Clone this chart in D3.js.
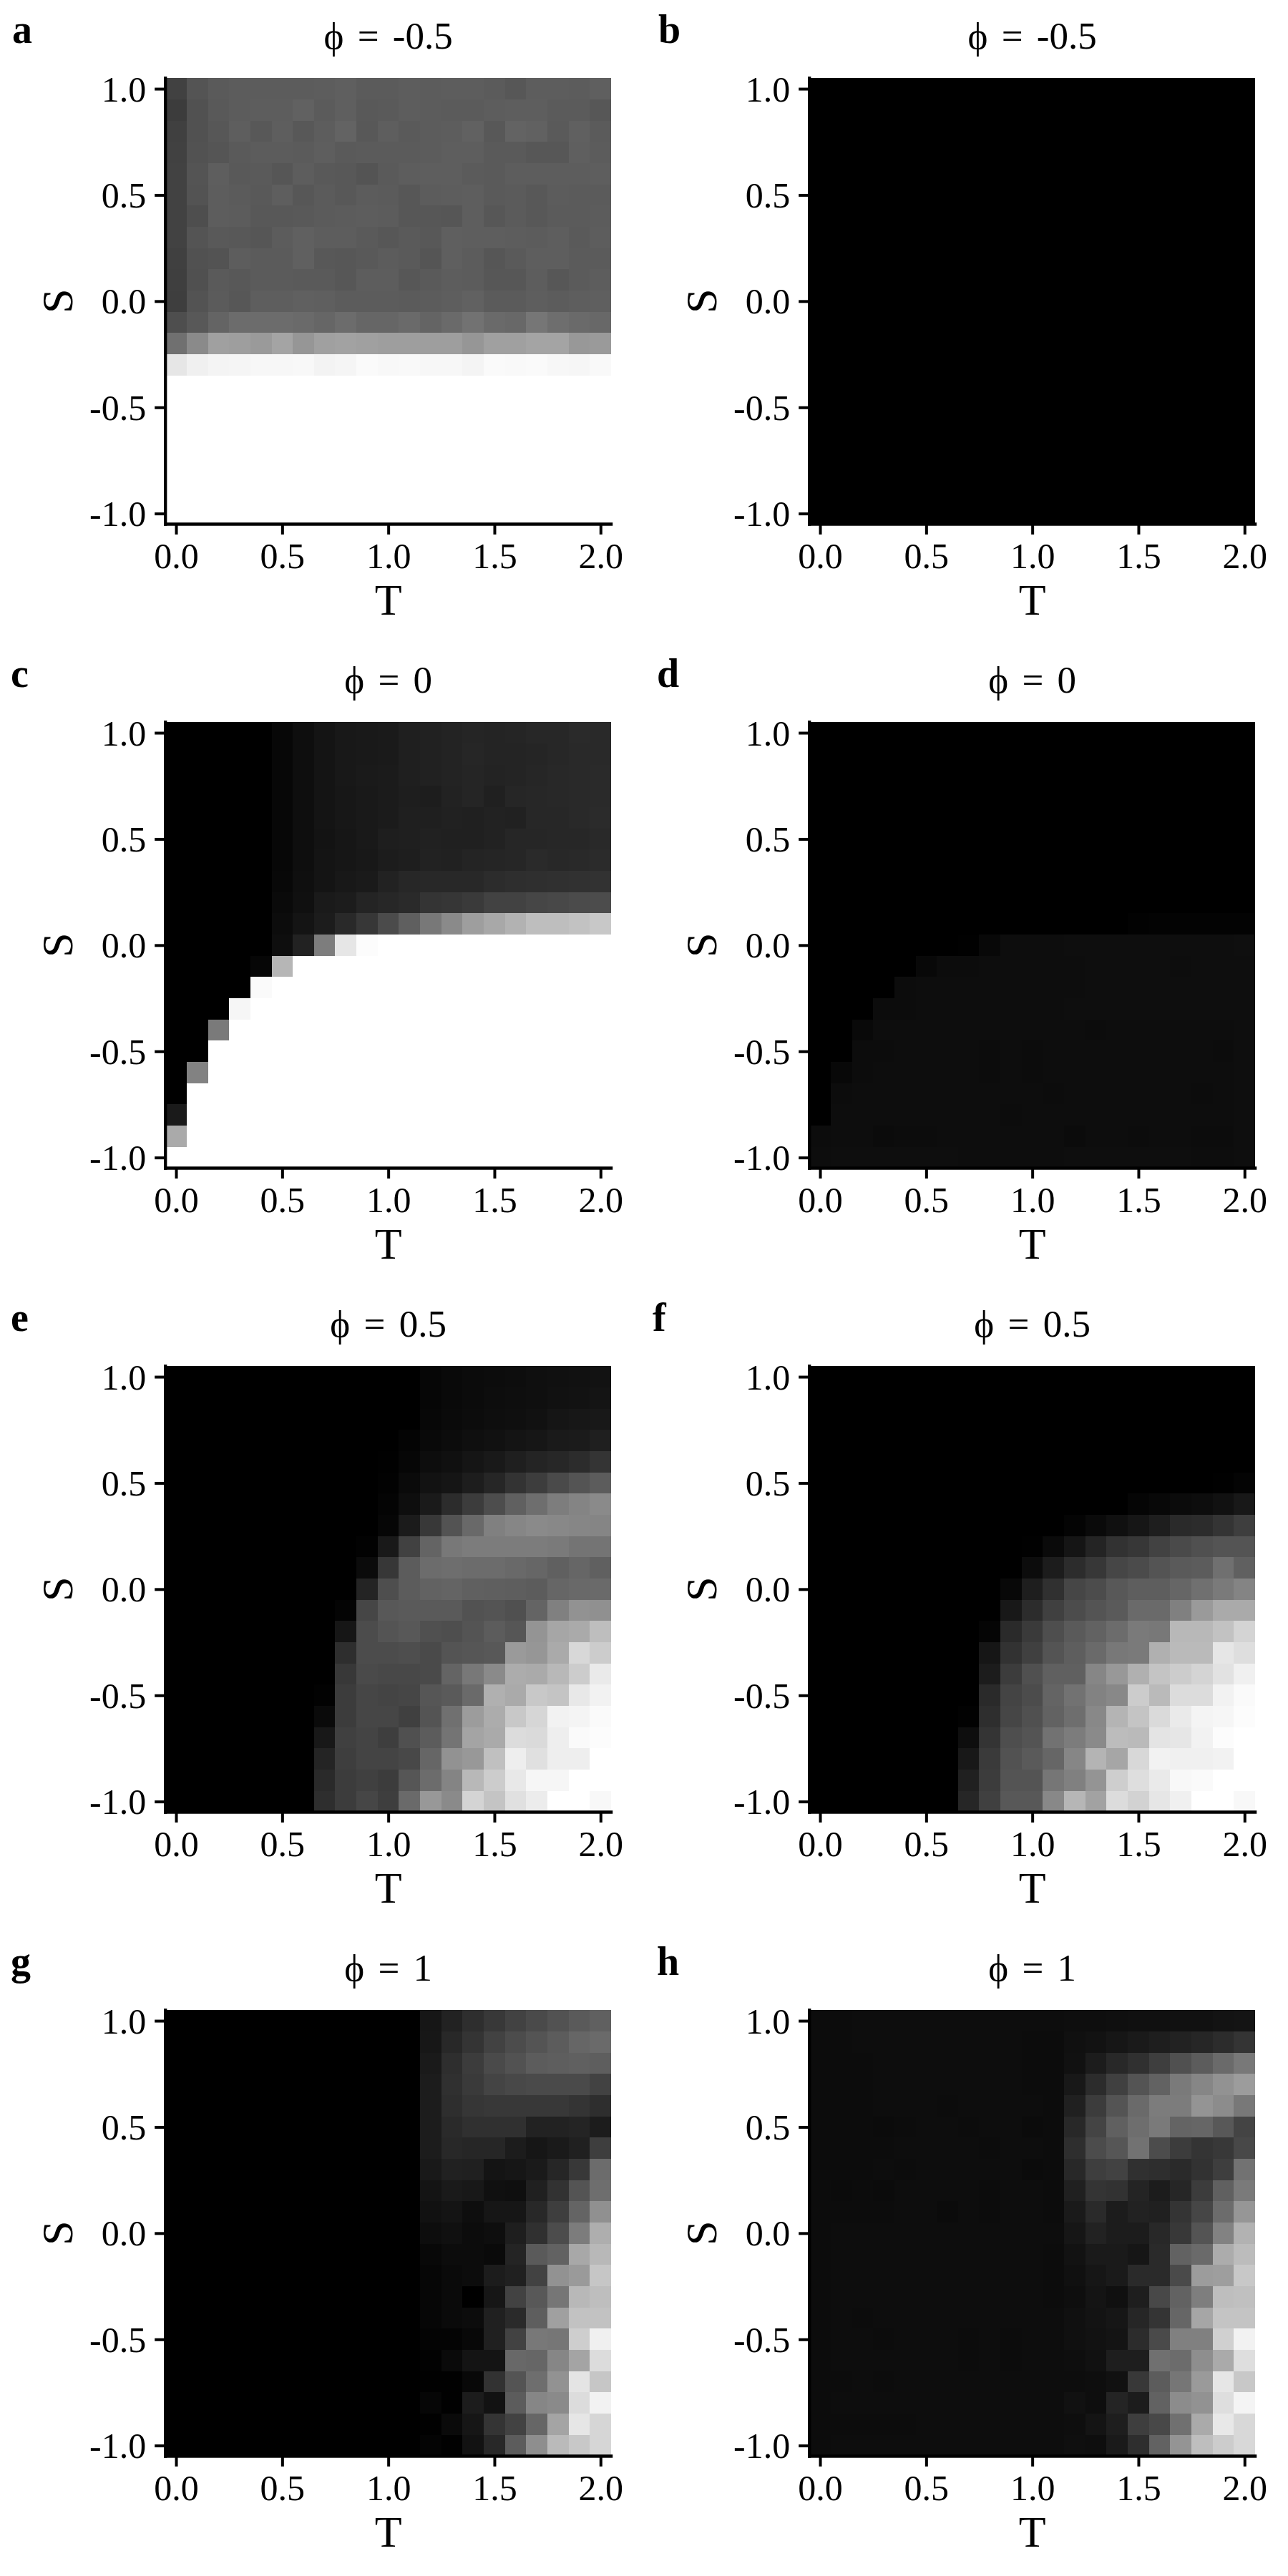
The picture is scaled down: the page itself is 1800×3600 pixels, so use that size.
<!DOCTYPE html>
<html><head><meta charset="utf-8">
<script src="https://cdnjs.cloudflare.com/ajax/libs/d3/7.8.5/d3.min.js"></script>
<style>html,body{margin:0;padding:0;background:#fff}svg{display:block}text{font-family:"Liberation Serif",serif;fill:#000}</style>
</head><body><svg id="c" width="1800" height="3600"></svg>
<script>
const tValues=[0,0.1,0.2,0.3,0.4,0.5,0.6,0.7,0.8,0.9,1,1.1,1.2,1.3,1.4,1.5,1.6,1.7,1.8,1.9,2];
const sValues=[1,0.9,0.8,0.7,0.6,0.5,0.4,0.3,0.2,0.1,0,-0.1,-0.2,-0.3,-0.4,-0.5,-0.6,-0.7,-0.8,-0.9,-1];
const tTicks=[0,0.5,1,1.5,2];
const sTicks=[-1,-0.5,0,0.5,1];
const panelLetters=["a","b","c","d","e","f","g","h"];
const panelTitles=["ϕ = -0.5","ϕ = -0.5","ϕ = 0","ϕ = 0","ϕ = 0.5","ϕ = 0.5","ϕ = 1","ϕ = 1"];

const panelA=[
[65,84,90,92,92,92,92,93,95,91,91,93,92,93,93,91,87,93,93,92,95],
[60,81,89,92,93,93,97,91,95,89,90,93,92,91,91,93,94,94,91,91,87],
[64,81,87,94,88,94,88,93,99,88,94,90,92,93,97,88,99,97,90,96,91],
[65,82,85,90,92,92,91,94,90,91,91,91,92,94,94,90,90,87,87,95,92],
[66,84,94,89,90,86,93,89,88,84,90,93,94,94,91,90,93,93,93,93,94],
[66,83,93,91,89,94,87,91,88,92,91,87,92,93,94,90,91,88,92,91,91],
[66,78,93,92,88,88,89,91,92,93,92,87,87,86,94,87,91,88,91,91,92],
[66,84,89,88,86,92,96,93,93,90,87,90,88,95,94,94,93,92,94,90,93],
[64,81,83,93,91,91,96,88,87,89,92,90,85,95,92,86,90,94,94,91,91],
[63,80,90,88,91,91,90,90,87,93,93,87,90,93,92,87,87,93,87,91,93],
[62,83,91,87,94,94,96,95,92,92,92,91,92,94,97,91,91,94,92,94,95],
[78,88,100,108,108,108,106,102,108,102,102,106,100,106,114,106,104,118,110,106,104],
[112,138,160,158,154,164,150,160,162,160,158,158,158,158,150,160,160,164,164,152,154],
[230,240,244,245,247,247,248,243,245,250,248,249,247,247,244,250,249,250,247,246,249],
[255,255,255,255,255,255,255,255,255,255,255,255,255,255,255,255,255,255,255,255,255],
[255,255,255,255,255,255,255,255,255,255,255,255,255,255,255,255,255,255,255,255,255],
[255,255,255,255,255,255,255,255,255,255,255,255,255,255,255,255,255,255,255,255,255],
[255,255,255,255,255,255,255,255,255,255,255,255,255,255,255,255,255,255,255,255,255],
[255,255,255,255,255,255,255,255,255,255,255,255,255,255,255,255,255,255,255,255,255],
[255,255,255,255,255,255,255,255,255,255,255,255,255,255,255,255,255,255,255,255,255],
[255,255,255,255,255,255,255,255,255,255,255,255,255,255,255,255,255,255,255,255,255]];

const panelB=[
[0,0,0,0,0,0,0,0,0,0,0,0,0,0,0,0,0,0,0,0,0],
[0,0,0,0,0,0,0,0,0,0,0,0,0,0,0,0,0,0,0,0,0],
[0,0,0,0,0,0,0,0,0,0,0,0,0,0,0,0,0,0,0,0,0],
[0,0,0,0,0,0,0,0,0,0,0,0,0,0,0,0,0,0,0,0,0],
[0,0,0,0,0,0,0,0,0,0,0,0,0,0,0,0,0,0,0,0,0],
[0,0,0,0,0,0,0,0,0,0,0,0,0,0,0,0,0,0,0,0,0],
[0,0,0,0,0,0,0,0,0,0,0,0,0,0,0,0,0,0,0,0,0],
[0,0,0,0,0,0,0,0,0,0,0,0,0,0,0,0,0,0,0,0,0],
[0,0,0,0,0,0,0,0,0,0,0,0,0,0,0,0,0,0,0,0,0],
[0,0,0,0,0,0,0,0,0,0,0,0,0,0,0,0,0,0,0,0,0],
[0,0,0,0,0,0,0,0,0,0,0,0,0,0,0,0,0,0,0,0,0],
[0,0,0,0,0,0,0,0,0,0,0,0,0,0,0,0,0,0,0,0,0],
[0,0,0,0,0,0,0,0,0,0,0,0,0,0,0,0,0,0,0,0,0],
[0,0,0,0,0,0,0,0,0,0,0,0,0,0,0,0,0,0,0,0,0],
[0,0,0,0,0,0,0,0,0,0,0,0,0,0,0,0,0,0,0,0,0],
[0,0,0,0,0,0,0,0,0,0,0,0,0,0,0,0,0,0,0,0,0],
[0,0,0,0,0,0,0,0,0,0,0,0,0,0,0,0,0,0,0,0,0],
[0,0,0,0,0,0,0,0,0,0,0,0,0,0,0,0,0,0,0,0,0],
[0,0,0,0,0,0,0,0,0,0,0,0,0,0,0,0,0,0,0,0,0],
[0,0,0,0,0,0,0,0,0,0,0,0,0,0,0,0,0,0,0,0,0],
[0,0,0,0,0,0,0,0,0,0,0,0,0,0,0,0,0,0,0,0,0]];

const panelC=[
[0,0,0,0,0,7,14,20,24,25,26,31,33,35,37,36,37,39,39,42,41],
[0,0,0,0,0,7,14,20,24,25,26,31,33,35,38,36,36,37,39,41,41],
[0,0,0,0,0,7,14,20,24,26,27,31,33,35,37,35,36,38,40,41,42],
[0,0,0,0,0,7,14,20,23,25,27,30,29,34,37,32,38,39,40,41,42],
[0,0,0,0,0,7,14,20,23,25,27,31,31,33,32,34,33,39,39,41,43],
[0,0,0,0,0,7,14,19,22,25,30,31,33,32,32,34,38,38,39,39,41],
[0,0,0,0,0,7,14,20,22,24,28,30,34,33,36,37,38,42,40,41,43],
[0,0,0,0,0,8,15,20,24,26,34,39,40,40,40,44,46,47,48,49,50],
[0,0,0,0,0,10,16,26,28,36,39,42,52,54,58,66,66,70,72,75,76],
[0,0,0,0,0,12,20,28,41,55,75,95,120,138,158,168,178,190,190,194,200],
[0,0,0,0,0,14,34,125,230,252,255,255,255,255,255,255,255,255,255,255,255],
[0,0,0,0,6,182,255,255,255,255,255,255,255,255,255,255,255,255,255,255,255],
[0,0,0,0,250,255,255,255,255,255,255,255,255,255,255,255,255,255,255,255,255],
[0,0,0,246,255,255,255,255,255,255,255,255,255,255,255,255,255,255,255,255,255],
[0,0,122,255,255,255,255,255,255,255,255,255,255,255,255,255,255,255,255,255,255],
[0,0,255,255,255,255,255,255,255,255,255,255,255,255,255,255,255,255,255,255,255],
[0,130,255,255,255,255,255,255,255,255,255,255,255,255,255,255,255,255,255,255,255],
[0,255,255,255,255,255,255,255,255,255,255,255,255,255,255,255,255,255,255,255,255],
[26,255,255,255,255,255,255,255,255,255,255,255,255,255,255,255,255,255,255,255,255],
[170,255,255,255,255,255,255,255,255,255,255,255,255,255,255,255,255,255,255,255,255],
[255,255,255,255,255,255,255,255,255,255,255,255,255,255,255,255,255,255,255,255,255]];

const panelD=[
[0,0,0,0,0,0,0,0,0,0,0,0,0,0,0,0,0,0,0,0,0],
[0,0,0,0,0,0,0,0,0,0,0,0,0,0,0,0,0,0,0,0,0],
[0,0,0,0,0,0,0,0,0,0,0,0,0,0,0,0,0,0,0,0,0],
[0,0,0,0,0,0,0,0,0,0,0,0,0,0,0,0,0,0,0,0,0],
[0,0,0,0,0,0,0,0,0,0,0,0,0,0,0,0,0,0,0,0,0],
[0,0,0,0,0,0,0,0,0,0,0,0,0,0,0,0,0,0,0,0,0],
[0,0,0,0,0,0,0,0,0,0,0,0,0,0,0,0,0,0,0,0,0],
[0,0,0,0,0,0,0,0,0,0,0,0,0,0,0,0,0,0,0,0,0],
[0,0,0,0,0,0,0,0,0,0,0,0,0,0,0,0,0,0,0,0,0],
[0,0,0,0,0,0,0,0,0,0,0,0,0,0,0,2,3,3,3,3,3],
[0,0,0,0,0,0,0,1,8,13,13,13,14,14,14,14,14,14,14,14,15],
[0,0,0,0,0,8,12,12,13,13,13,13,13,14,14,14,14,13,14,14,14],
[0,0,0,0,12,13,13,13,13,13,13,13,13,14,14,14,14,14,14,14,14],
[0,0,0,12,12,13,13,13,13,13,13,13,14,14,14,14,14,14,14,14,14],
[0,0,9,13,13,13,13,13,13,13,13,13,13,12,13,13,13,13,13,13,14],
[0,0,12,12,13,13,13,13,12,13,12,13,13,13,13,13,13,13,13,12,14],
[0,8,12,13,13,13,13,13,12,13,12,13,13,13,13,13,13,13,13,13,14],
[0,12,13,13,13,13,13,13,13,13,13,12,13,13,13,13,13,13,12,13,14],
[0,13,13,13,13,13,13,13,13,12,13,13,13,13,13,13,13,13,13,13,14],
[12,13,13,11,12,12,13,13,13,13,13,13,11,13,13,12,13,13,12,12,14],
[13,14,14,14,14,14,14,13,13,13,13,13,14,14,14,14,14,14,13,13,14]];

const panelE=[
[0,0,0,0,0,0,0,0,0,0,0,0,6,9,11,12,13,15,16,17,18],
[0,0,0,0,0,0,0,0,0,0,0,0,6,9,11,13,14,15,17,18,20],
[0,0,0,0,0,0,0,0,0,0,0,0,7,10,12,14,15,17,21,23,24],
[0,0,0,0,0,0,0,0,0,0,0,4,9,12,15,17,20,22,26,27,31],
[0,0,0,0,0,0,0,0,0,0,1,6,13,16,21,25,31,36,39,44,52],
[0,0,0,0,0,0,0,0,0,0,2,10,18,21,29,38,51,61,74,84,92],
[0,0,0,0,0,0,0,0,0,0,4,14,26,44,60,77,96,110,125,132,138],
[0,0,0,0,0,0,0,0,0,0,6,27,56,83,105,128,134,138,136,134,133],
[0,0,0,0,0,0,0,0,0,2,25,65,100,120,124,124,124,124,122,116,116],
[0,0,0,0,0,0,0,0,0,11,55,92,108,110,108,108,105,102,96,102,96],
[0,0,0,0,0,0,0,0,0,36,78,92,98,100,96,95,94,92,102,105,106],
[0,0,0,0,0,0,0,0,4,70,88,90,90,90,82,84,80,100,128,146,144],
[0,0,0,0,0,0,0,0,22,76,84,88,80,78,84,92,86,148,166,170,190],
[0,0,0,0,0,0,0,0,46,76,76,78,74,84,86,88,154,150,170,216,204],
[0,0,0,0,0,0,0,0,56,74,72,72,74,100,120,138,172,170,184,204,234],
[0,0,0,0,0,0,0,2,60,70,68,70,86,90,106,176,170,200,196,232,242],
[0,0,0,0,0,0,0,10,60,70,70,64,84,112,156,172,200,214,242,244,250],
[0,0,0,0,0,0,0,24,64,68,62,80,92,116,164,170,220,218,238,250,252],
[0,0,0,0,0,0,0,36,62,68,68,72,102,146,152,192,238,224,238,238,255],
[0,0,0,0,0,0,0,42,60,64,60,86,108,132,184,204,232,246,246,255,255],
[0,0,0,0,0,0,0,46,60,70,62,106,152,138,212,196,224,236,255,255,248]];

const panelF=[
[0,0,0,0,0,0,0,0,0,0,0,0,0,0,0,0,0,0,0,0,0],
[0,0,0,0,0,0,0,0,0,0,0,0,0,0,0,0,0,0,0,0,0],
[0,0,0,0,0,0,0,0,0,0,0,0,0,0,0,0,0,0,0,0,0],
[0,0,0,0,0,0,0,0,0,0,0,0,0,0,0,0,0,0,0,0,0],
[0,0,0,0,0,0,0,0,0,0,0,0,0,0,0,0,0,0,0,0,0],
[0,0,0,0,0,0,0,0,0,0,0,0,0,0,0,0,0,0,0,1,4],
[0,0,0,0,0,0,0,0,0,0,0,0,0,0,0,5,8,11,13,17,24],
[0,0,0,0,0,0,0,0,0,0,0,0,4,10,16,22,30,42,44,52,62],
[0,0,0,0,0,0,0,0,0,0,1,10,21,36,50,55,66,74,80,84,84],
[0,0,0,0,0,0,0,0,0,0,12,28,44,55,70,75,84,90,92,112,96],
[0,0,0,0,0,0,0,0,0,8,30,48,70,76,88,94,94,102,112,122,132],
[0,0,0,0,0,0,0,0,0,24,44,64,76,84,90,106,106,128,154,170,170],
[0,0,0,0,0,0,0,0,5,42,58,78,90,98,108,122,120,184,184,194,212],
[0,0,0,0,0,0,0,0,22,50,64,84,94,106,120,122,176,186,186,230,222],
[0,0,0,0,0,0,0,0,28,60,80,96,96,134,152,176,196,204,212,226,240],
[0,0,0,0,0,0,0,0,42,68,76,100,114,130,136,204,186,220,220,242,250],
[0,0,0,0,0,0,0,2,46,70,80,98,110,136,180,196,218,234,244,246,252],
[0,0,0,0,0,0,0,14,52,78,84,114,124,138,188,186,228,230,242,252,255],
[0,0,0,0,0,0,0,24,58,82,90,102,134,180,166,216,242,240,240,242,255],
[0,0,0,0,0,0,0,32,60,84,84,118,128,148,206,222,234,248,250,255,255],
[0,0,0,0,0,0,0,38,64,88,88,136,182,162,220,210,230,240,255,255,248]];

const panelG=[
[0,0,0,0,0,0,0,0,0,0,0,0,22,34,46,56,66,74,82,90,96],
[0,0,0,0,0,0,0,0,0,0,0,0,23,40,52,66,76,84,92,102,106],
[0,0,0,0,0,0,0,0,0,0,0,0,26,46,60,74,82,92,94,96,94],
[0,0,0,0,0,0,0,0,0,0,0,0,28,48,58,68,72,74,74,74,66],
[0,0,0,0,0,0,0,0,0,0,0,0,28,46,54,56,56,56,56,52,46],
[0,0,0,0,0,0,0,0,0,0,0,0,28,42,48,48,48,34,34,36,28],
[0,0,0,0,0,0,0,0,0,0,0,0,28,40,38,38,28,22,26,32,62],
[0,0,0,0,0,0,0,0,0,0,0,0,25,33,32,20,22,26,38,56,108],
[0,0,0,0,0,0,0,0,0,0,0,0,20,26,24,16,15,32,50,84,110],
[0,0,0,0,0,0,0,0,0,0,0,0,17,20,14,22,22,40,62,100,144],
[0,0,0,0,0,0,0,0,0,0,0,0,13,16,12,14,30,48,76,124,174],
[0,0,0,0,0,0,0,0,0,0,0,0,8,12,12,10,36,90,98,168,184],
[0,0,0,0,0,0,0,0,0,0,0,0,6,10,12,28,32,66,146,154,198],
[0,0,0,0,0,0,0,0,0,0,0,0,6,10,0,22,66,88,118,184,190],
[0,0,0,0,0,0,0,0,0,0,0,0,6,10,12,32,42,94,160,194,194],
[0,0,0,0,0,0,0,0,0,0,0,0,4,4,8,32,66,120,118,206,240],
[0,0,0,0,0,0,0,0,0,0,0,0,2,10,20,20,104,102,134,164,220],
[0,0,0,0,0,0,0,0,0,0,0,0,1,1,8,50,84,110,146,228,198],
[0,0,0,0,0,0,0,0,0,0,0,0,6,1,28,18,92,134,138,220,242],
[0,0,0,0,0,0,0,0,0,0,0,0,1,10,22,52,66,102,164,230,214],
[0,0,0,0,0,0,0,0,0,0,0,0,4,1,18,40,92,142,186,200,214]];

const panelH=[
[12,12,13,13,13,13,13,13,13,13,13,13,14,14,15,16,16,17,17,19,20],
[12,12,13,13,13,13,13,13,13,13,12,12,16,18,22,26,30,34,38,44,52],
[12,12,12,13,13,13,13,13,13,13,12,12,17,28,40,48,62,80,92,106,120],
[12,12,12,13,13,13,13,13,13,13,12,12,24,44,64,84,98,122,134,146,156],
[12,12,12,13,13,13,12,13,13,13,13,12,32,60,84,106,124,124,148,140,120],
[12,12,12,11,12,13,13,12,13,13,11,12,40,68,96,110,122,100,102,88,68],
[12,12,12,12,13,13,13,13,12,13,13,12,46,76,86,114,76,60,52,56,72],
[12,12,12,13,12,13,13,13,13,13,11,12,40,62,66,48,46,42,50,62,114],
[12,11,12,11,13,13,13,13,12,13,13,12,32,52,50,36,28,38,60,96,122],
[12,12,12,12,13,13,11,13,12,13,13,12,26,42,28,34,32,52,70,108,150],
[12,13,13,13,13,13,13,13,13,13,13,13,22,34,28,28,40,56,84,130,178],
[12,13,13,13,13,13,13,13,13,13,13,12,18,26,26,22,42,98,106,172,188],
[12,13,13,13,13,13,13,13,13,13,13,12,16,22,26,42,42,74,156,158,200],
[12,13,13,13,13,13,13,13,13,13,13,12,14,20,16,30,72,98,126,190,192],
[12,13,12,13,13,13,13,13,13,13,13,13,16,19,22,38,52,102,166,196,196],
[12,13,13,12,13,13,13,12,13,12,13,13,16,18,20,44,74,128,128,208,242],
[12,13,13,13,13,13,13,12,13,12,13,13,14,17,30,30,112,108,142,170,222],
[12,12,13,12,13,13,13,13,13,13,13,13,13,14,17,56,92,118,154,230,200],
[12,13,13,13,13,13,13,13,13,13,13,13,17,14,36,28,98,140,146,222,244],
[12,12,12,12,12,13,13,13,13,13,13,13,14,20,30,62,72,112,170,232,216],
[12,13,13,13,13,13,13,13,13,13,13,13,15,14,26,46,98,148,190,204,216]];

const panelData=[panelA,panelB,panelC,panelD,panelE,panelF,panelG,panelH];
const letterX=[17,920,15,918,15,912,15,918];

const svg=d3.select("#c");
const gray=d3.scaleLinear().domain([0,255]).range(["#000000","#ffffff"]);
const w=622.9,h=623.3;

panelData.forEach((grid,k)=>{
  const col=k%2,row=Math.floor(k/2);
  const ox=col*900,oy=row*900;
  const g=svg.append("g").attr("transform",`translate(${231.2+ox},${109.2+oy})`);
  const x=d3.scaleLinear().domain([-0.05,2.05]).range([0,w]);
  const y=d3.scaleLinear().domain([1.05,-1.05]).range([0,h]);
  grid.forEach((vals,ri)=>{
    g.selectAll(null).data(vals).join("rect")
      .attr("x",(d,i)=>x(tValues[i]-0.05))
      .attr("width",(d,i)=>x(tValues[i]+0.05)-x(tValues[i]-0.05))
      .attr("y",y(sValues[ri]+0.05))
      .attr("height",y(sValues[ri]-0.05)-y(sValues[ri]+0.05))
      .attr("fill",d=>gray(d))
      .attr("shape-rendering","crispEdges");
  });
  const ax=g.append("g").attr("transform",`translate(0,${h})`)
    .call(d3.axisBottom(x).tickValues(tTicks).tickFormat(d3.format(".1f")).tickSize(14.5).tickSizeOuter(0));
  const ay=g.append("g")
    .call(d3.axisLeft(y).tickValues(sTicks).tickFormat(d=>d3.format(".1f")(d).replace("−","-")).tickSize(15).tickSizeOuter(0));
  [ax,ay].forEach(a=>{
    a.attr("font-family",null).attr("font-size",null);
    a.select(".domain").attr("stroke","#000").attr("stroke-width",4.3).attr("stroke-linecap","square");
    a.selectAll(".tick line").attr("stroke","#000").attr("stroke-width",4).attr("transform",null);
    a.selectAll(".tick").each(function(){
      const s=d3.select(this);
      s.select("line").attr("shape-rendering","geometricPrecision");
    });
    a.selectAll("text").style("font-size","50px").style("font-family",'"Liberation Serif",serif').attr("fill","#000");
  });
  ax.select(".domain").attr("d",`M0,0H${w}`);
  ay.select(".domain").attr("d",`M0,0V${h}`);
  ax.selectAll("text").attr("y",61.5).attr("dy",0);
  ay.selectAll("text").attr("x",-27).attr("dy","0.34em");
  g.append("text").attr("x",x(1)).attr("y",h+126.5).attr("text-anchor","middle").style("font-size","62px").text("T");
  g.append("text").attr("transform",`translate(-130.6,${y(0)}) rotate(-90)`).attr("text-anchor","middle").style("font-size","62px").text("S");
  g.append("text").attr("x",x(1)).attr("y",-41.5).attr("text-anchor","middle").style("font-size","53px").style("word-spacing","6px").text(panelTitles[k]);
  svg.append("text").attr("x",letterX[k]).attr("y",60+oy).style("font-size","56px").style("font-weight","bold").text(panelLetters[k]);
});
</script></body></html>
